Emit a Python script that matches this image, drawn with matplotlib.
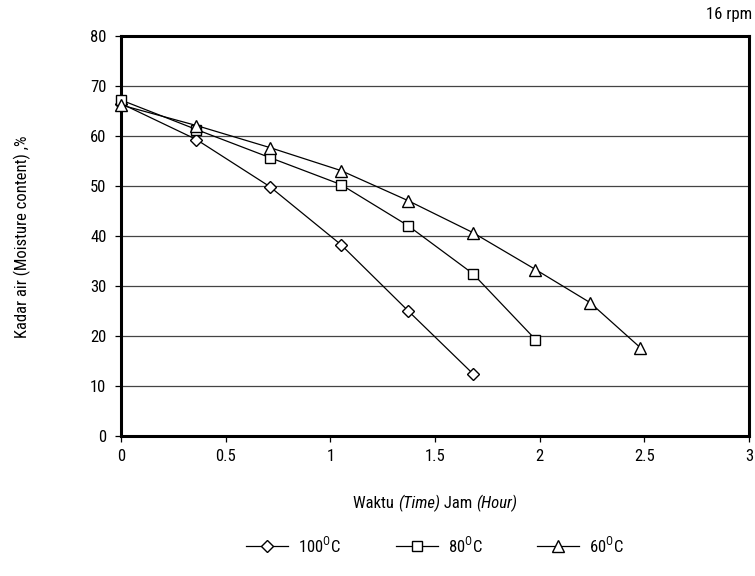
import matplotlib
matplotlib.use("Agg")
import matplotlib.pyplot as plt
from matplotlib.offsetbox import TextArea, HPacker, AnnotationBbox
from matplotlib import font_manager

names = {f.name for f in font_manager.fontManager.ttflist}
FONT = next((f for f in ["Roboto Condensed", "Archivo Narrow", "PT Sans Narrow",
                         "Liberation Sans"] if f in names), "DejaVu Sans")
plt.rcParams['font.family'] = [FONT, 'DejaVu Sans']
plt.rcParams['mathtext.fontset'] = 'custom'
plt.rcParams['mathtext.rm'] = FONT

# Data
t_100 = [0, 0.36, 0.71, 1.05, 1.37, 1.68]
mc_100 = [66.5, 59.3, 49.9, 38.3, 25.1, 12.5]
t_80 = [0, 0.36, 0.71, 1.05, 1.37, 1.68, 1.98]
mc_80 = [67.2, 61.3, 55.7, 50.3, 42.1, 32.5, 19.3]
t_60 = [0, 0.36, 0.71, 1.05, 1.37, 1.68, 1.98, 2.24, 2.48]
mc_60 = [66.2, 62.1, 57.7, 53.1, 47.1, 40.7, 33.3, 26.7, 17.7]
labels = ["100$^{\\mathrm{O}}$C", "80$^{\\mathrm{O}}$C", "60$^{\\mathrm{O}}$C"]
xticks = [0, 0.5, 1, 1.5, 2, 2.5, 3]
xticklabels = ["0", "0.5", "1", "1.5", "2", "2.5", "3"]
yticks = [0, 10, 20, 30, 40, 50, 60, 70, 80]

FS = 12
fig = plt.figure(figsize=(7.55, 5.76), dpi=100)
ax = fig.add_axes([121/755, 1-436/576, (749-121)/755, (436-36)/576])

for t, mc, m, ms, lab in [(t_100, mc_100, 'D', 6, labels[0]),
                          (t_80, mc_80, 's', 7, labels[1]),
                          (t_60, mc_60, '^', 8, labels[2])]:
    ax.plot(t, mc, color='black', lw=0.9, marker=m, ms=ms, mfc='white',
            mec='black', mew=1.0, label=lab, zorder=3, clip_on=False)

ax.set_xlim(0, 3)
ax.set_ylim(0, 80)
ax.set_xticks(xticks)
ax.set_xticklabels(xticklabels)
ax.set_yticks(yticks)
ax.yaxis.grid(True, color='#444444', lw=0.9)
ax.set_axisbelow(True)
for s in ax.spines.values():
    s.set_linewidth(2.2)
    s.set_color('black')
ax.tick_params(direction='out', length=4.5, width=0.9, labelsize=FS)
ax.tick_params(axis='y', pad=6)
ax.tick_params(axis='x', pad=5)

fig.text(22/755, 1-237/576, "Kadar air (Moisture content) ,%", rotation=90,
         ha='center', va='center', fontsize=FS)

parts = [TextArea("Waktu ", textprops=dict(fontsize=FS)),
         TextArea("(Time)", textprops=dict(fontsize=FS, style='italic')),
         TextArea(" Jam ", textprops=dict(fontsize=FS)),
         TextArea("(Hour)", textprops=dict(fontsize=FS, style='italic'))]
box = HPacker(children=parts, align='baseline', pad=0, sep=0)
ab = AnnotationBbox(box, (435/755, 1-503/576), xycoords='figure fraction',
                    frameon=False, box_alignment=(0.5, 0.5))
fig.add_artist(ab)

fig.text(752/755, 1-14/576, "16 rpm", ha='right', va='center', fontsize=FS)

fig.legend(loc='center', bbox_to_anchor=(435/755, 1-545/576), ncol=3, frameon=False,
           fontsize=FS, handlelength=2.5, columnspacing=3.3, handletextpad=0.6,
           borderpad=0)

fig.savefig("out.png", dpi=100)
